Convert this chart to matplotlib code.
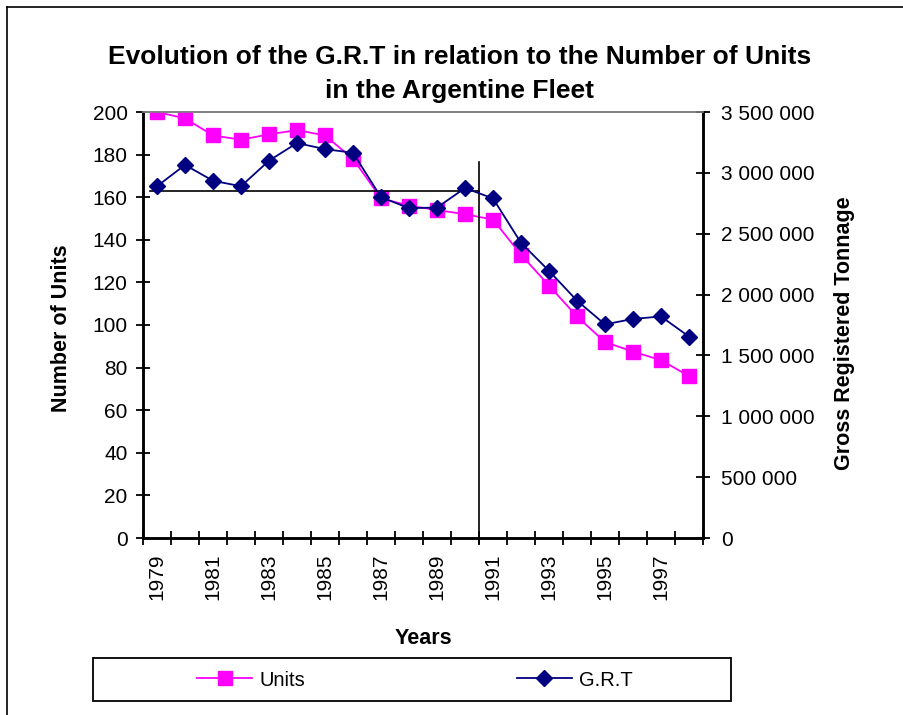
import matplotlib
matplotlib.use("Agg")
import matplotlib.pyplot as plt
from matplotlib.lines import Line2D
from matplotlib.patches import Rectangle
from matplotlib.ticker import FixedLocator, FuncFormatter, NullFormatter

plt.rcParams['font.family'] = ['Liberation Sans', 'DejaVu Sans']

years = list(range(1979, 1999))
units = [200, 197, 189, 187, 189.5, 191.5, 189, 178, 159.5, 156, 154, 152, 149.5, 133, 118.5, 104, 92, 87.5, 83.5, 76]
grt = [2890000, 3065000, 2935000, 2890000, 3100000, 3245000, 3195000, 3165000, 2800000, 2710000,
       2715000, 2875000, 2790000, 2425000, 2195000, 1950000, 1755000, 1800000, 1820000, 1655000]
tick_years = [str(y) for y in years[::2]]

# reference lines drawn in the original (level in units, split between 1990 and 1991)
ref_level = 163
ref_split = 11.5
ref_split_top = 176.7

W, H = 904, 715
fig = plt.figure(figsize=(W / 100, H / 100), dpi=100)
ax = fig.add_axes([143 / W, 1 - 538 / H, (703 - 143) / W, (538 - 112) / H])
ax2 = ax.twinx()

x = list(range(len(years)))
ax.plot(x, units, color='#FF00FF', lw=1.3, marker='s', ms=10, mec='#FF00FF', mfc='#FF00FF', zorder=3, label='Units')
ax2.plot(x, grt, color='#000080', lw=1.3, marker='D', ms=8.5, mec='#000080', mfc='#000080', zorder=3, label='G.R.T')

ax.plot([-0.25, ref_split], [ref_level, ref_level], color='black', lw=1.2, zorder=4)
ax.plot([ref_split, ref_split], [-2.5, ref_split_top], color='black', lw=1.2, zorder=4, clip_on=False)

ax.set_xlim(-0.5, len(years) - 0.5)
ax.set_ylim(0, 200)
ax2.set_ylim(0, 3500000)

ax.set_yticks(range(0, 201, 20))
ax2.set_yticks(range(0, 3500001, 500000))
ax2.yaxis.set_major_formatter(FuncFormatter(lambda v, p: f"{int(v):,}".replace(',', ' ')))

ax.xaxis.set_major_locator(FixedLocator([i - 0.5 for i in range(len(years) + 1)]))
ax.xaxis.set_major_formatter(NullFormatter())
ax.xaxis.set_minor_locator(FixedLocator(x[::2]))
ax.set_xticklabels(tick_years, minor=True, rotation=90)
ax.tick_params(axis='x', which='minor', length=0, pad=11, labelsize=15)
ax.tick_params(axis='x', which='major', direction='inout', length=10, width=1.3)
ax.tick_params(axis='y', direction='inout', length=10, width=1.3, labelsize=15, pad=6)
ax2.tick_params(axis='y', direction='inout', length=10, width=1.3, labelsize=15, pad=8)

for a in (ax, ax2):
    a.spines['top'].set_color('#808080')
    a.spines['top'].set_linewidth(1.2)
    a.spines['left'].set_linewidth(1.8)
    a.spines['bottom'].set_linewidth(1.8)
    a.spines['right'].set_linewidth(1.8)

fig.text(62 / W, 1 - 328 / H, 'Number of Units', rotation=90, ha='center', va='center', fontsize=15.5, fontweight='bold')
fig.text(845 / W, 1 - 333 / H, 'Gross Registered Tonnage', rotation=90, ha='center', va='center', fontsize=15.5, fontweight='bold')
fig.text(423 / W, 1 - 638 / H, 'Years', ha='center', va='center', fontsize=15.5, fontweight='bold')
fig.text(460 / W, 1 - 57 / H, 'Evolution of the G.R.T in relation to the Number of Units', ha='center', va='center', fontsize=19, fontweight='bold')
fig.text(460 / W, 1 - 91 / H, 'in the Argentine Fleet', ha='center', va='center', fontsize=19, fontweight='bold')

# legend frame
fig.add_artist(Rectangle((93 / W, 1 - 701 / H), (731 - 93) / W, (701 - 658) / H,
                         transform=fig.transFigure, fill=False, edgecolor='black', lw=1.3))
h1, l1 = ax.get_legend_handles_labels()
h2, l2 = ax2.get_legend_handles_labels()
leg = fig.legend(h1 + h2, l1 + l2, loc='center', ncol=2,
                 bbox_to_anchor=(415 / W, 1 - 680 / H),
                 fontsize=14.5, frameon=False, handlelength=2.75, handletextpad=0.35,
                 columnspacing=10.5, borderpad=0)

fig.add_artist(Line2D([7 / W, 7 / W], [0, 1 - 7 / H], color='black', lw=1.2))
fig.add_artist(Line2D([7 / W, 1], [1 - 7 / H, 1 - 7 / H], color='black', lw=1.2))

fig.savefig('out.png', dpi=100)
